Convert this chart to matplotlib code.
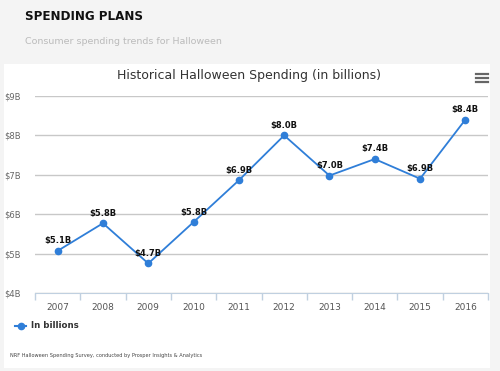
import matplotlib.pyplot as plt
from matplotlib.patches import Rectangle
from matplotlib.lines import Line2D

# data
years = ['2007', '2008', '2009', '2010', '2011', '2012', '2013', '2014', '2015', '2016']
spending = [5.07, 5.77, 4.75, 5.8, 6.86, 8.0, 6.98, 7.4, 6.9, 8.4]
labels = ['$5.1B', '$5.8B', '$4.7B', '$5.8B', '$6.9B', '$8.0B', '$7.0B', '$7.4B', '$6.9B', '$8.4B']
yticks = [4, 5, 6, 7, 8, 9]

W, H = 500, 371
fig = plt.figure(figsize=(5, 3.71), dpi=100)
fig.patch.set_facecolor('#f4f4f4')

def fx(px):
    return px / W

def fy(py):
    return 1 - py / H

# white panel
fig.patches.append(Rectangle((fx(4), fy(368)), fx(490) - fx(4), fy(64) - fy(368),
                             transform=fig.transFigure, facecolor='white', edgecolor='none', zorder=-5))

fig.text(fx(25), fy(17), 'SPENDING PLANS', fontsize=9.5, fontweight='bold', fontstretch='condensed',
         family='DejaVu Sans', color='#111111', va='center', ha='left')
fig.text(fx(25), fy(41), 'Consumer spending trends for Halloween', fontsize=6.8, color='#bbbbbb',
         va='center', ha='left')

ax = fig.add_axes([fx(35), fy(293), fx(488) - fx(35), fy(96) - fy(293)])
ax.set_zorder(2)
ax.set_facecolor('none')
x = list(range(len(years)))
color = '#2f7ed8'
ax.plot(x, spending, color=color, lw=1.3, marker='o', ms=4.5, zorder=3, clip_on=False)
for xi, v, lab in zip(x, spending, labels):
    ax.annotate(lab, (xi, v), xytext=(0, 4), textcoords='offset points', ha='center', va='bottom',
                fontsize=6, fontweight='bold', color='#111111', zorder=4)

ax.set_xlim(-0.5, len(years) - 0.5)
ax.set_ylim(4, 9)
ax.set_yticks(yticks)
ax.set_yticklabels(['$%dB' % t for t in yticks], fontsize=6, color='#666666')
ax.yaxis.grid(True, color='#c8c8c8', lw=1)
ax.set_axisbelow(True)
ax.tick_params(axis='y', length=0, pad=10)

ax.set_xticks(x)
ax.set_xticklabels(years, fontsize=6.5, color='#555555')
ax.tick_params(axis='x', length=0, pad=7)
ax.set_xticks([i - 0.5 for i in range(len(years) + 1)], minor=True)
ax.tick_params(axis='x', which='minor', length=5, color='#c0d0e0', width=1, direction='out')

for s in ['top', 'right', 'left']:
    ax.spines[s].set_visible(False)
ax.spines['bottom'].set_color('#c0d0e0')

fig.text(fx(249), fy(75), 'Historical Halloween Spending (in billions)', fontsize=9,
         color='#333333', ha='center', va='center')
# menu icon
for dy in (-4, 0, 4):
    fig.lines.append(Line2D([fx(476), fx(488)], [fy(78 + dy), fy(78 + dy)], transform=fig.transFigure,
                            color='#666666', lw=1.6))

# legend
fig.lines.append(Line2D([fx(15), fx(26)], [fy(326), fy(326)], transform=fig.transFigure, color=color,
                        lw=1.5))
fig.lines.append(Line2D([fx(20.5)], [fy(326)], transform=fig.transFigure, color=color, marker='o', ms=4.5))
fig.text(fx(31), fy(326), 'In billions', fontsize=6.2, fontweight='bold', color='#333333',
         va='center', ha='left')

fig.text(fx(10), fy(356), 'NRF Halloween Spending Survey, conducted by Prosper Insights & Analytics',
         fontsize=3.6, color='#444444', va='center', ha='left')

fig.savefig('out.png', dpi=100, facecolor=fig.get_facecolor())
